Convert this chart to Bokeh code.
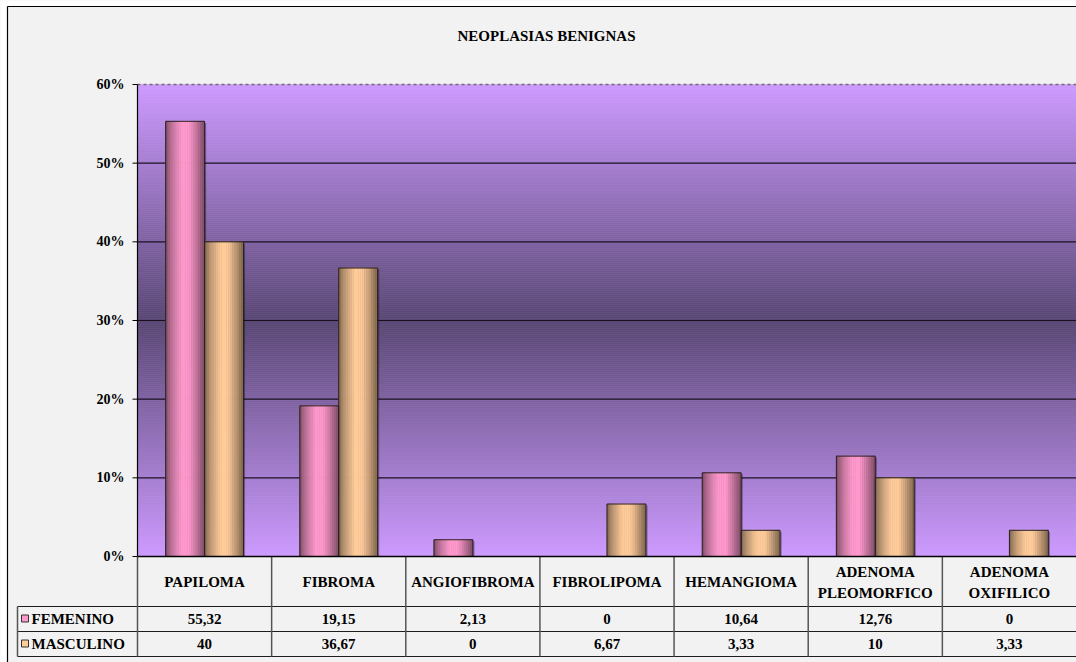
from bokeh.plotting import figure
from bokeh.models import Range1d
from bokeh.core.properties import value
from bokeh.embed import file_html
from bokeh.resources import INLINE

# ---------------- data ----------------
title_text = "NEOPLASIAS BENIGNAS"
categories = ["PAPILOMA", "FIBROMA", "ANGIOFIBROMA", "FIBROLIPOMA",
              "HEMANGIOMA", "ADENOMA\nPLEOMORFICO", "ADENOMA\nOXIFILICO"]
series_names = ["FEMENINO", "MASCULINO"]
femenino = [55.32, 19.15, 2.13, 0, 10.64, 12.76, 0]
masculino = [40, 36.67, 0, 6.67, 3.33, 10, 3.33]
y_ticks = [0, 0.1, 0.2, 0.3, 0.4, 0.5, 0.6]

# ---------------- layout / styling ----------------
W, H = 1076, 662
FL, FT, FB = 137, 84, 556            # plot-area left / top / bottom (canvas px)
FONT = "Liberation Serif"
series_rgb = [(255, 153, 204), (255, 204, 153)]
light_bg = (204, 153, 255)
dark_bg = (88, 70, 115)
bar_w = 0.29
n_cat = len(categories)
y_max = y_ticks[-1]

PPX = (W - FL) / n_cat
PPY = (FB - FT) / y_max


def dx(X):          # canvas px -> data x
    return (X - FL) / PPX


def dy(Y):          # canvas px -> data y
    return (FB - Y) / PPY


def hexc(rgb):
    return "#%02x%02x%02x" % tuple(max(0, min(255, int(round(c)))) for c in rgb)


p = figure(width=W, height=H, x_range=Range1d(dx(0), dx(W)),
           y_range=Range1d(dy(H), dy(0)), output_backend="svg",
           toolbar_location=None, x_axis_location=None, y_axis_location=None,
           title=None, min_border=0, background_fill_color="#f2f2f2",
           border_fill_color="#f2f2f2", outline_line_color=None)
p.grid.visible = False

# white page margin and chart border
p.quad(left=[dx(0), dx(0)], right=[dx(7), dx(W)], top=[dy(0), dy(0)],
       bottom=[dy(H), dy(6)], fill_color="white", line_color=None)
p.segment(x0=[dx(7), dx(7)], y0=[dy(6), dy(6)], x1=[dx(7), dx(W + 10)],
          y1=[dy(H), dy(6)], line_color="black", line_width=1.2)

# plot-area vertical gradient (light - dark - light)
n_strips = 236
bb, bt, bc = [], [], []
for k in range(n_strips):
    t = (k + 0.5) / n_strips
    d = 1 - abs(2 * t - 1)
    col = [light_bg[c] * (1 - d) + dark_bg[c] * d for c in range(3)]
    bb.append(y_max * k / n_strips)
    bt.append(y_max * (k + 1) / n_strips)
    bc.append(hexc(col))
p.quad(left=[0] * n_strips, right=[n_cat] * n_strips, bottom=bb, top=bt,
       fill_color=bc, line_color=bc, line_width=0.6)

# gridlines
grid_y = y_ticks[1:-1]
p.segment(x0=[0] * len(grid_y), x1=[n_cat] * len(grid_y), y0=grid_y,
          y1=grid_y, line_color="#1a1020", line_width=1.2)
# dashed top border
p.segment(x0=[0], x1=[n_cat], y0=[y_max], y1=[y_max], line_color="#6e6e6e",
          line_dash="3 3", line_width=1.5)


def shade(u):
    if u < 0.42:
        return 0.42 + 0.58 * (u / 0.42) ** 0.6
    if u < 0.6:
        return 1.0
    return 1.0 - 0.5 * ((u - 0.6) / 0.4) ** 1.1


K = 18
sl, sr, st, scol = [], [], [], []
ol, orr, ot = [], [], []
for s, vals in enumerate([femenino, masculino]):
    base = series_rgb[s]
    for i, v in enumerate(vals):
        if v <= 0:
            continue
        left = i + 0.5 - bar_w + s * bar_w
        top = v / 100.0
        ol.append(left)
        orr.append(left + bar_w)
        ot.append(top)
        for j in range(K):
            u = (j + 0.5) / K
            b = shade(u)
            sl.append(left + bar_w * j / K)
            sr.append(left + bar_w * (j + 1) / K)
            st.append(top)
            scol.append(hexc([c * b for c in base]))

# bar shadows, gradient strips, outlines
p.quad(left=[x + 0.012 for x in ol], right=[x + 0.012 for x in orr],
       top=[t - 0.002 for t in ot], bottom=[0] * len(ol),
       fill_color="black", fill_alpha=0.35, line_color=None)
p.quad(left=sl, right=sr, top=st, bottom=[0] * len(sl), fill_color=scol,
       line_color=scol, line_width=0.5)
p.quad(left=ol, right=orr, top=ot, bottom=[0] * len(ol), fill_color=None,
       line_color="#2a2020", line_width=1)

# value axis: line, ticks, labels
p.segment(x0=[0], x1=[0], y0=[0], y1=[y_max], line_color="black", line_width=1.2)
p.segment(x0=[dx(FL - 5)] * len(y_ticks), x1=[0] * len(y_ticks), y0=y_ticks,
          y1=y_ticks, line_color="black", line_width=1)
p.text(x=[dx(FL - 13)] * len(y_ticks), y=y_ticks,
       text=["%d%%" % round(t * 100) for t in y_ticks],
       text_font=value(FONT), text_font_style="bold", text_font_size="14px",
       text_align="right", text_baseline="middle", text_color="black")

# title
p.text(x=[dx(546)], y=[dy(35)], text=[title_text], text_font=value(FONT),
       text_font_style="bold", text_font_size="15px", text_align="center",
       text_baseline="middle", text_color="black")

# ---------------- data table ----------------
row_lines = [606, 631, 656]
p.segment(x0=[dx(17)] * 3, x1=[n_cat] * 3, y0=[dy(r) for r in row_lines],
          y1=[dy(r) for r in row_lines], line_color="#1e1e1e", line_width=1.2)
col_x = list(range(n_cat))
p.segment(x0=col_x, x1=col_x, y0=[0] * len(col_x), y1=[dy(656)] * len(col_x),
          line_color="#555555", line_width=1.5)
p.segment(x0=[dx(17)], x1=[dx(17)], y0=[dy(606)], y1=[dy(656)],
          line_color="#555555", line_width=1.5)
# base (0%) line
p.segment(x0=[0], x1=[n_cat], y0=[0], y1=[0], line_color="black", line_width=1.5)

# category labels
hx, hy, ht = [], [], []
for i, name in enumerate(categories):
    lines = name.split("\n")
    if len(lines) == 1:
        hx.append(i + 0.5); hy.append(dy(581)); ht.append(lines[0])
    else:
        hx += [i + 0.5, i + 0.5]
        hy += [dy(571), dy(592)]
        ht += lines


def fmt(v):
    return ("%g" % v).replace(".", ",")


row_centers = [618.5, 643.5]
for s, vals in enumerate([femenino, masculino]):
    for i, v in enumerate(vals):
        hx.append(i + 0.5); hy.append(dy(row_centers[s])); ht.append(fmt(v))
p.text(x=hx, y=hy, text=ht, text_font=value(FONT), text_font_style="bold",
       text_font_size="15px", text_align="center", text_baseline="middle",
       text_color="black")

# legend column
p.text(x=[dx(31)] * 2, y=[dy(c) for c in row_centers], text=series_names,
       text_font=value(FONT), text_font_style="bold", text_font_size="15px",
       text_align="left", text_baseline="middle", text_color="black")
p.quad(left=[dx(21)] * 2, right=[dx(28)] * 2,
       top=[dy(c - 4) for c in row_centers],
       bottom=[dy(c + 3) for c in row_centers],
       fill_color=[hexc(c) for c in series_rgb], line_color="#333333",
       line_width=1)

open("out.html", "w").write(file_html(p, INLINE))
